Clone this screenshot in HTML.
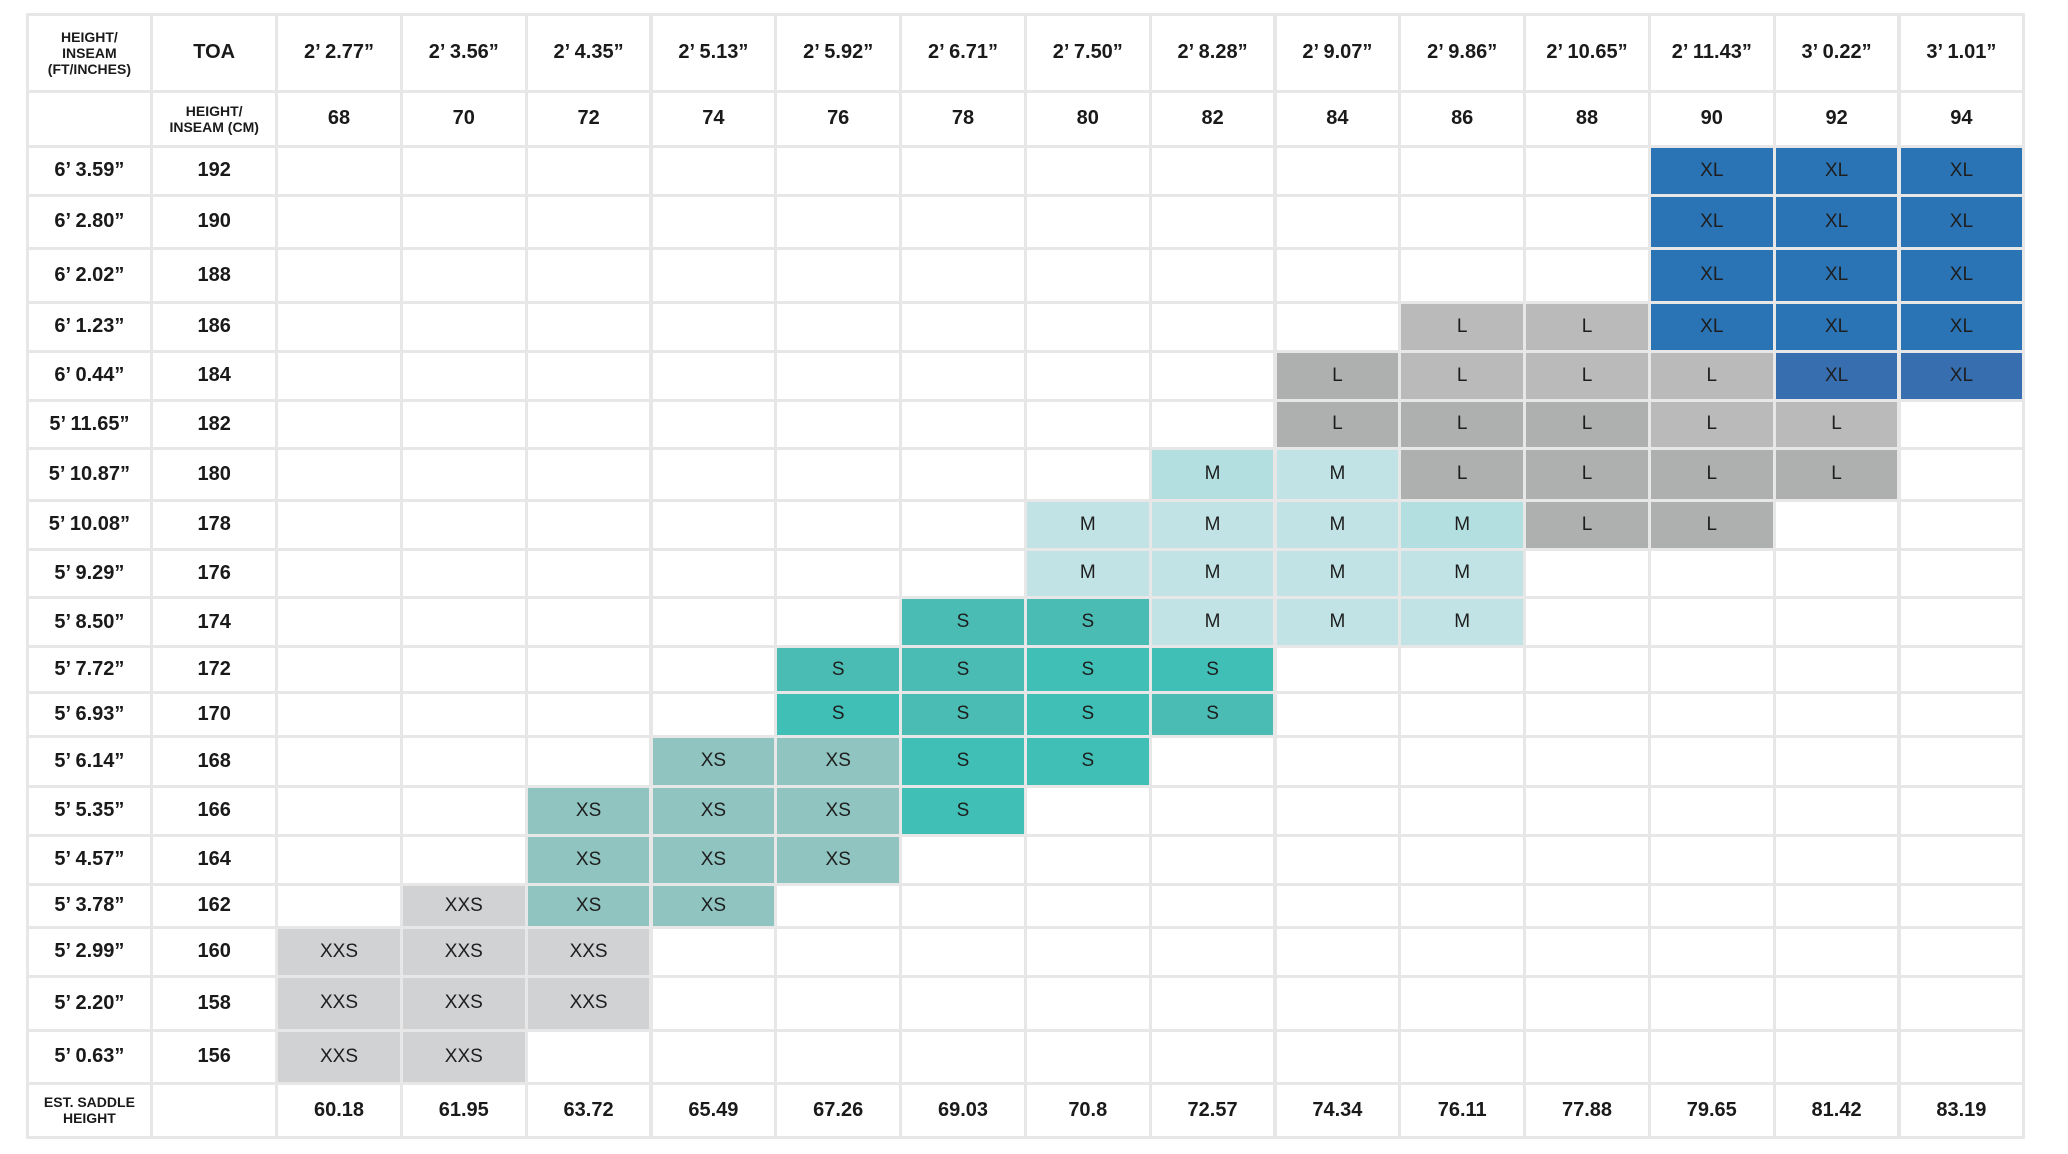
<!DOCTYPE html>
<html><head><meta charset="utf-8">
<style>
html,body{margin:0;padding:0;background:#fff;}
#chart{position:relative;width:2068px;height:1154px;background:#fff;font-family:"Liberation Sans",Arial,sans-serif;color:#1a1a1a;overflow:hidden;}
.grid{position:absolute;background:#e7e7e7;}
.cell{position:absolute;display:flex;align-items:center;justify-content:center;text-align:center;box-sizing:border-box;}
.hd{font-weight:bold;font-size:20px;}
.sm{font-weight:bold;font-size:14px;line-height:16px;}
.sz{font-size:19px;color:#1e1e1e;}
</style></head><body>
<div id="chart"></div>
<script>
const inseamFtIn = ["2’ 2.77”","2’ 3.56”","2’ 4.35”","2’ 5.13”","2’ 5.92”","2’ 6.71”","2’ 7.50”","2’ 8.28”","2’ 9.07”","2’ 9.86”","2’ 10.65”","2’ 11.43”","3’ 0.22”","3’ 1.01”"];
const inseamCm = [68,70,72,74,76,78,80,82,84,86,88,90,92,94];
const heightFtIn = ["6’ 3.59”","6’ 2.80”","6’ 2.02”","6’ 1.23”","6’ 0.44”","5’ 11.65”","5’ 10.87”","5’ 10.08”","5’ 9.29”","5’ 8.50”","5’ 7.72”","5’ 6.93”","5’ 6.14”","5’ 5.35”","5’ 4.57”","5’ 3.78”","5’ 2.99”","5’ 2.20”","5’ 0.63”"];
const heightCm = [192,190,188,186,184,182,180,178,176,174,172,170,168,166,164,162,160,158,156];
const saddleHeight = ["60.18","61.95","63.72","65.49","67.26","69.03","70.8","72.57","74.34","76.11","77.88","79.65","81.42","83.19"];
// size per row (one entry per inseam column); suffix "2" = alternate shade
const sizeGrid = [
 ["","","","","","","","","","","","XL","XL","XL"],
 ["","","","","","","","","","","","XL","XL","XL"],
 ["","","","","","","","","","","","XL","XL","XL"],
 ["","","","","","","","","","L","L","XL","XL","XL"],
 ["","","","","","","","","L2","L","L","L","XL2","XL2"],
 ["","","","","","","","","L2","L2","L2","L","L",""],
 ["","","","","","","","M2","M","L2","L2","L2","L2",""],
 ["","","","","","","M","M","M","M2","L2","L2","",""],
 ["","","","","","","M","M","M","M","","","",""],
 ["","","","","","S","S","M","M","M","","","",""],
 ["","","","","S","S","S2","S2","","","","","",""],
 ["","","","","S2","S","S2","S","","","","","",""],
 ["","","","XS","XS","S2","S2","","","","","","",""],
 ["","","XS","XS","XS","S2","","","","","","","",""],
 ["","","XS","XS","XS","","","","","","","","",""],
 ["","XXS","XS","XS","","","","","","","","","",""],
 ["XXS","XXS","XXS","","","","","","","","","","",""],
 ["XXS","XXS","XXS","","","","","","","","","","",""],
 ["XXS","XXS","","","","","","","","","","","",""]
];
const colors = {XL:"#2a74b5",XL2:"#376eb0",L:"#bababa",L2:"#aeb0b0",M:"#c1e3e5",M2:"#b3dfe0",S:"#4bbcb4",S2:"#3fbfb6",XS:"#90c4c0",XXS:"#d1d2d4"};

const chart = document.getElementById('chart');
const X0 = 27, COLW = 124.8, NCOL = 16;
const rowEdges = [14,91,146.5,195,248,302,351,400,448.5,500,549,597.5,646.5,692.5,736,786,835,884,927.5,976,1030,1083.5,1137];
const colX = i => X0 + i*COLW;
const g = document.createElement('div');
g.className='grid';


g.style.left=(X0-1.5)+'px'; g.style.top=(rowEdges[0]-1.5)+'px';
g.style.width=(NCOL*COLW+3)+'px'; g.style.height=(rowEdges[rowEdges.length-1]-rowEdges[0]+3)+'px';
chart.appendChild(g);

function cell(c,r,text,cls,bg,name){
  const d=document.createElement('div');
  d.className='cell '+(cls||'');
  
  
  d.style.left=(colX(c)+1.5)+'px';
  d.style.top=(rowEdges[r]+1.5)+'px';
  d.style.width=(COLW-3)+'px';
  d.style.height=(rowEdges[r+1]-rowEdges[r]-3)+'px';
  d.style.background=bg||'#fff';
  if(text) d.innerHTML=text;
  chart.appendChild(d);
}
cell(0,0,'HEIGHT/<br>INSEAM<br>(FT/INCHES)','sm',null,'header-ft-inches');
cell(1,0,'TOA','hd',null,'header-toa');
inseamFtIn.forEach((t,i)=>cell(i+2,0,t,'hd',null,'inseam-ft-'+inseamCm[i]));
cell(0,1,'','',null,'header-blank');
cell(1,1,'HEIGHT/<br>INSEAM (CM)','sm',null,'header-cm');
inseamCm.forEach((t,i)=>cell(i+2,1,String(t),'hd',null,'inseam-cm-'+t));
heightCm.forEach((h,r)=>{
  cell(0,r+2,heightFtIn[r],'hd',null,'height-ft-'+h);
  cell(1,r+2,String(h),'hd',null,'height-cm-'+h);
  sizeGrid[r].forEach((s,i)=>{
    const label=s.replace('2','');
    cell(i+2,r+2,label,'sz',s?colors[s]:'#fff', s?('size-'+label.toLowerCase()+'-'+h+'-'+inseamCm[i]):('empty-'+h+'-'+inseamCm[i]));
  });
});
const lr=heightCm.length+2;
cell(0,lr,'EST. SADDLE<br>HEIGHT','sm',null,'saddle-label');
cell(1,lr,'','',null,'saddle-blank');
saddleHeight.forEach((t,i)=>cell(i+2,lr,t,'hd',null,'saddle-'+inseamCm[i]));
</script>
</body></html>
